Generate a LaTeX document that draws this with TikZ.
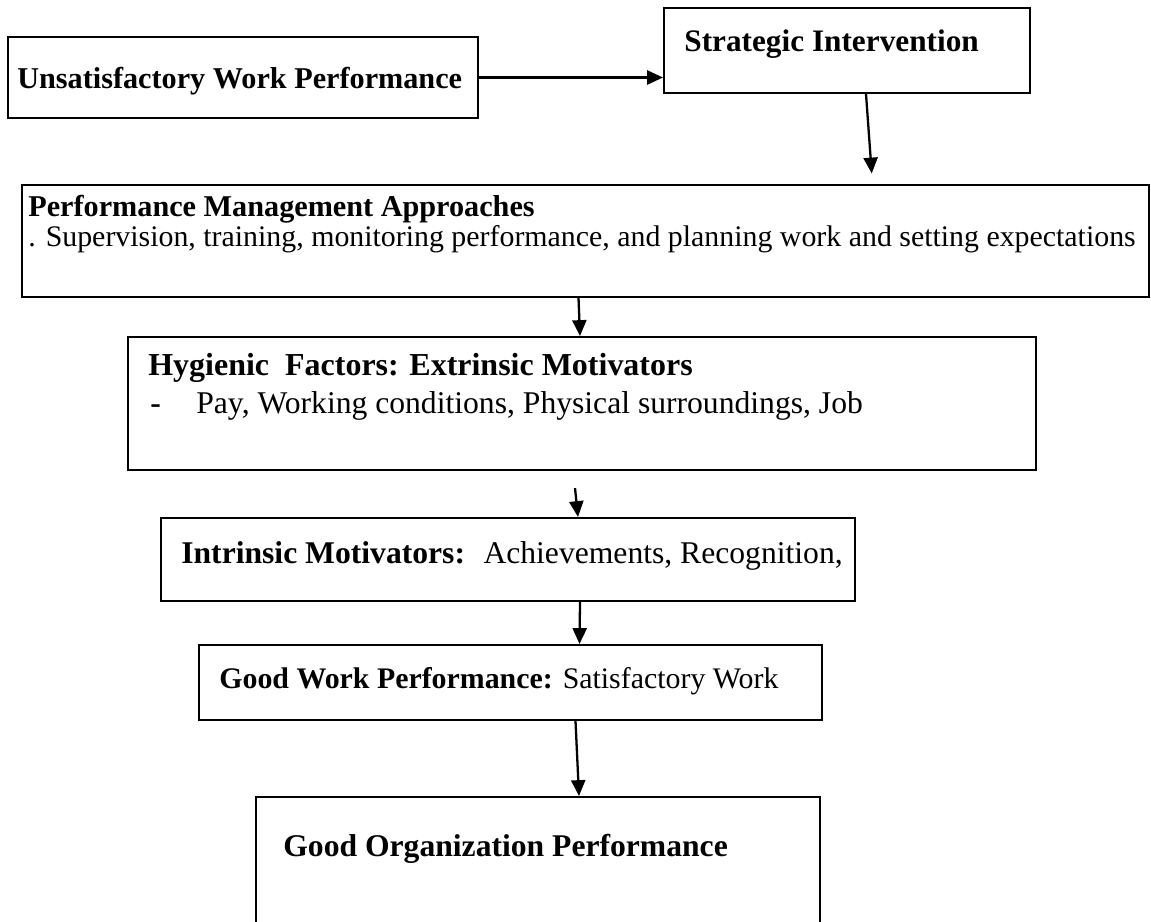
\documentclass[tikz,border=0pt]{standalone}
\usepackage{fontspec}
\setmainfont{Liberation Serif}
\usetikzlibrary{arrows.meta, fit, calc}

\begin{document}
\begin{tikzpicture}[x=0.02cm, y=-0.02cm,
  box/.style={draw, line width=1.2pt, inner sep=0pt},
  txt/.style={anchor=base west, inner sep=0pt},
  flow/.style={-{Triangle[length=9pt,width=8pt]}, line width=1.3pt}]
  \useasboundingbox (0,0) rectangle (1151,921);
  \clip (0,0) rectangle (1151,921);

  \node[box, fit={(8,37) (478,118)}] (uwp) {};
  \node[box, fit={(664,8) (1030,93)}] (si) {};
  \node[box, fit={(22,185) (1149,297)}] (pma) {};
  \node[box, fit={(128,337) (1036,470)}] (hf) {};
  \node[box, fit={(161,518) (855,601)}] (im) {};
  \node[box, fit={(199,645) (822,720)}] (gw) {};
  \node[box, fit={(256,797) (820,940)}] (go) {};

  \node[txt, font=\fontsize{17.2}{20}\selectfont\bfseries] (uwp-t) at (17,88) {Unsatisfactory Work Performance};
  \node[txt, font=\fontsize{17.8}{21}\selectfont\bfseries] (si-t) at (684,51) {Strategic Intervention};
  \node[txt, font=\fontsize{17.2}{20}\selectfont\bfseries] (pma-t) at (28,216) {Performance Management Approaches};
  \node[txt, font=\fontsize{17}{20}\selectfont] (pma-b) at (28,246) {. Supervision, training, monitoring performance, and planning work and setting expectations};
  \node[txt, font=\fontsize{18.2}{22}\selectfont\bfseries] (hf-t) at (148,375) {Hygienic~ Factors: Extrinsic Motivators};
  \node[txt, font=\fontsize{18}{22}\selectfont\bfseries] (hf-d) at (150,413) {-};
  \node[txt, font=\fontsize{18}{22}\selectfont] (hf-b) at (196,413) {Pay, Working conditions, Physical surroundings, Job};
  \node[txt, font=\fontsize{18}{22}\selectfont] (im-t) at (181,563) {\textbf{Intrinsic Motivators:}~ Achievements, Recognition,};
  \node[txt, font=\fontsize{17}{21}\selectfont] (gw-t) at (219,688) {\textbf{Good Work Performance:} Satisfactory Work};
  \node[txt, font=\fontsize{18}{22}\selectfont\bfseries] (go-t) at (283,856) {Good Organization Performance};

  \draw[flow] (uwp.east) -- (uwp.east -| si.west);
  \draw[flow, shorten >=6pt] ($(si.south)+(19,0)$) -- ($(pma.north)+(287,0)$);
  \draw[flow] ($(pma.south)+(-7,0)$) -- ($(hf.north)+(-2,0)$);
  \draw[flow] ($(hf.south)+(-7,17)$) -- ($(im.north)+(70,0)$);
  \draw[flow] ($(im.south)+(72,0)$) -- ($(gw.north)+(69,0)$);
  \draw[flow] ($(gw.south)+(65,0)$) -- ($(go.north)+(41,0)$);
\end{tikzpicture}
\end{document}
